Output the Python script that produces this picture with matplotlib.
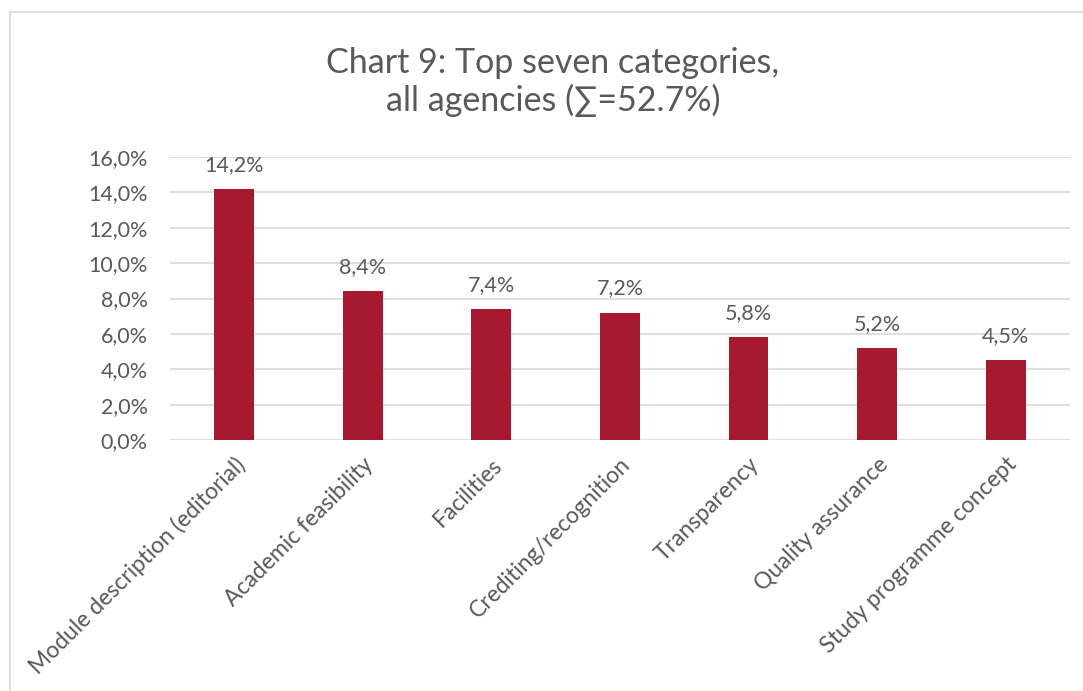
import matplotlib.pyplot as plt
from matplotlib.patches import Rectangle

categories = ['Module description (editorial)', 'Academic feasibility', 'Facilities',
              'Crediting/recognition', 'Transparency', 'Quality assurance',
              'Study programme concept']
values = [14.2, 8.4, 7.4, 7.2, 5.8, 5.2, 4.5]
labels = ['14,2%', '8,4%', '7,4%', '7,2%', '5,8%', '5,2%', '4,5%']
yticks = [0, 2, 4, 6, 8, 10, 12, 14, 16]

plt.rcParams['font.family'] = ['Lato', 'DejaVu Sans']
txt = '#595959'

fig = plt.figure(figsize=(10.83, 6.91), dpi=100)
# chart border
fig.patches.append(Rectangle((10 / 1083, -0.1), 1.2, 1 - 12 / 691 + 0.1,
                             transform=fig.transFigure, fill=False,
                             edgecolor='#D9D9D9', linewidth=1.2))

ax = fig.add_axes([170 / 1083, 1 - 440 / 691, 900 / 1083, 283 / 691])
x = range(len(categories))
ax.bar(x, values, width=0.31, color='#A6192E', zorder=3)
for i, v in enumerate(values):
    ax.text(i, v + 0.8, labels[i], ha='center', va='bottom', fontsize=15.5, color=txt)

ax.set_xlim(-0.5, len(categories) - 0.5)
ax.set_ylim(0, 16)
ax.set_yticks(yticks)
ax.set_yticklabels(['%d,0%%' % t for t in yticks], fontsize=15.5, color=txt)
ax.set_xticks(list(x))
ax.set_xticklabels(categories, rotation=45, ha='right', rotation_mode='anchor',
                   fontsize=16.5, color=txt)
ax.tick_params(axis='y', length=0, pad=16)
ax.tick_params(axis='x', length=0, pad=10)
ax.grid(axis='y', color='#D9D9D9', linewidth=1.2, zorder=0)
for s in ax.spines.values():
    s.set_visible(False)

fig.text(553 / 1083, 1 - 82 / 691, 'Chart 9: Top seven categories,\nall agencies (∑=52.7%)',
         ha='center', va='center', fontsize=24.5, color=txt, linespacing=1.15)

fig.savefig('out.png', dpi=100)
